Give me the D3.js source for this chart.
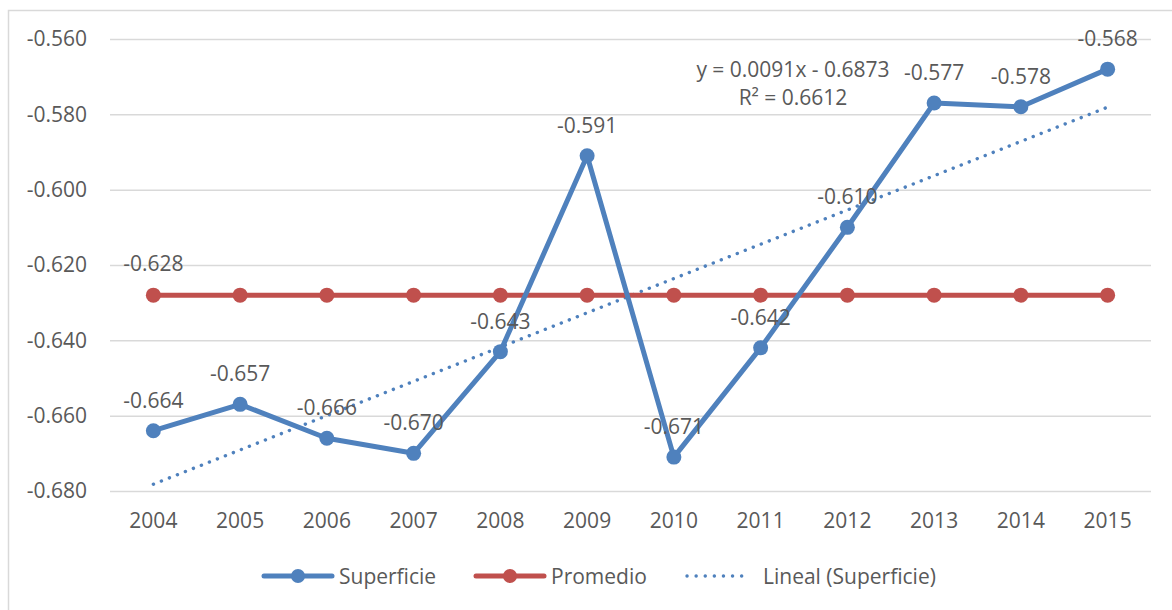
<!DOCTYPE html>
<html>
<head>
<meta charset="utf-8">
<script src="https://cdn.jsdelivr.net/npm/d3@7"></script>
<style>
  html, body { margin: 0; padding: 0; background: #fff; }
  svg text { font-family: "Open Sans", "Noto Sans", sans-serif; fill: #595959; }
</style>
</head>
<body>
<svg id="chart" width="1172" height="610"></svg>
<script>
// Years on the category axis
const years = ["2004","2005","2006","2007","2008","2009","2010","2011","2012","2013","2014","2015"];
// Surface index per year
const superficie = [-0.664, -0.657, -0.666, -0.670, -0.643, -0.591, -0.671, -0.642, -0.610, -0.577, -0.578, -0.568];
// Average over the period
const promedio = [-0.628, -0.628, -0.628, -0.628, -0.628, -0.628, -0.628, -0.628, -0.628, -0.628, -0.628, -0.628];
// Linear trend coefficients (y = slope * x + intercept, x = 1..12)
const trendSlope = 0.0091;
const trendIntercept = -0.6873;
const trendR2 = 0.6612;
// Value axis ticks
const yTicks = [-0.680, -0.660, -0.640, -0.620, -0.600, -0.580, -0.560];
const legendLabels = ["Superficie", "Promedio", "Lineal (Superficie)"];

const blue = "#4F81BD", red = "#C0504D", grid = "#d9d9d9";
const FS = 21;
const svg = d3.select("#chart");

// outer frame of the chart area
svg.append("rect").attr("x", 8.5).attr("y", 10.5).attr("width", 1200).attr("height", 700)
  .attr("fill", "none").attr("stroke", grid).attr("stroke-width", 1.5);

const plotL = 110, plotR = 1151, plotT = 39, plotB = 491;
const x = d3.scaleBand().domain(years).range([plotL, plotR]);
const cx = d => x(d) + x.bandwidth() / 2;
const y = d3.scaleLinear().domain([-0.680, -0.560]).range([plotB, plotT]);
// plain hyphen as the minus sign
const fmt = d3.formatLocale({ decimal: ".", thousands: ",", grouping: [3], currency: ["", ""], minus: "-" }).format(".3f");

// gridlines + y tick labels
const yAxis = d3.axisLeft(y).tickValues(yTicks).tickSize(-(plotR - plotL)).tickFormat(fmt).tickPadding(23);
const gy = svg.append("g").attr("transform", `translate(${plotL},0)`).call(yAxis);
gy.select(".domain").remove();
gy.selectAll(".tick line").attr("stroke", grid).attr("stroke-width", 1.5);
gy.selectAll(".tick text").attr("font-size", FS).attr("font-family", null).style("fill", "#595959");

// x tick labels
const xAxis = d3.axisBottom(x).tickSize(0).tickPadding(22);
const gx = svg.append("g").attr("transform", `translate(0,${plotB})`).call(xAxis);
gx.select(".domain").remove();
gx.selectAll(".tick text").attr("font-size", FS).attr("font-family", null).style("fill", "#595959");

// trendline from the fitted coefficients
const trendPts = [1, years.length].map(i => ({ yr: years[i - 1], v: trendSlope * i + trendIntercept }));
svg.append("path").datum(trendPts)
  .attr("d", d3.line().x(d => cx(d.yr)).y(d => y(d.v)))
  .attr("fill", "none").attr("stroke", blue).attr("stroke-width", 3.4)
  .attr("stroke-linecap", "round").attr("stroke-dasharray", "0.1 8.5");

// average line
const line = d3.line().x((d, i) => cx(years[i])).y(d => y(d));
svg.append("path").datum(promedio).attr("d", line)
  .attr("fill", "none").attr("stroke", red).attr("stroke-width", 5).attr("stroke-linejoin", "round");
svg.selectAll("circle.prom").data(promedio).join("circle").attr("class", "prom")
  .attr("cx", (d, i) => cx(years[i])).attr("cy", d => y(d)).attr("r", 7.5).attr("fill", red);

// surface series
svg.append("path").datum(superficie).attr("d", line)
  .attr("fill", "none").attr("stroke", blue).attr("stroke-width", 5).attr("stroke-linejoin", "round");
svg.selectAll("circle.sup").data(superficie).join("circle").attr("class", "sup")
  .attr("cx", (d, i) => cx(years[i])).attr("cy", d => y(d)).attr("r", 7.5).attr("fill", blue);

// data labels
svg.selectAll("text.sup").data(superficie).join("text").attr("class", "sup")
  .attr("x", (d, i) => cx(years[i])).attr("y", d => y(d) - 31)
  .attr("text-anchor", "middle").attr("dominant-baseline", "central").attr("font-size", FS)
  .text(d => fmt(d));
svg.append("text").attr("x", cx(years[0])).attr("y", y(promedio[0]) - 32)
  .attr("text-anchor", "middle").attr("dominant-baseline", "central").attr("font-size", FS)
  .text(fmt(promedio[0]));

// trend equation
const eq = svg.append("text").attr("text-anchor", "middle").attr("font-size", FS);
eq.append("tspan").attr("x", 793).attr("y", 69).attr("dominant-baseline", "central")
  .text(`y = ${trendSlope.toFixed(4)}x - ${Math.abs(trendIntercept).toFixed(4)}`);
eq.append("tspan").attr("x", 793).attr("y", 97).attr("dominant-baseline", "central")
  .text(`R² = ${trendR2.toFixed(4)}`);

// legend
const lg = svg.append("g").attr("transform", "translate(0,576)");
const items = [
  { x0: 264, x1: 332, tx: 339, color: blue, type: "marker" },
  { x0: 476, x1: 544, tx: 551, color: red, type: "marker" },
  { x0: 687, x1: 750, tx: 763, color: blue, type: "dots" }
];
items.forEach((it, i) => {
  if (it.type === "marker") {
    lg.append("line").attr("x1", it.x0).attr("x2", it.x1).attr("y1", 0).attr("y2", 0)
      .attr("stroke", it.color).attr("stroke-width", 5).attr("stroke-linecap", "round");
    lg.append("circle").attr("cx", (it.x0 + it.x1) / 2).attr("cy", 0).attr("r", 7).attr("fill", it.color);
  } else {
    lg.append("line").attr("x1", it.x0).attr("x2", it.x1).attr("y1", 0).attr("y2", 0)
      .attr("stroke", it.color).attr("stroke-width", 3.4).attr("stroke-linecap", "round")
      .attr("stroke-dasharray", "0.1 9");
  }
  lg.append("text").attr("x", it.tx).attr("y", 0).attr("dominant-baseline", "central")
    .attr("font-size", FS).text(legendLabels[i]);
});
</script>
</body>
</html>
